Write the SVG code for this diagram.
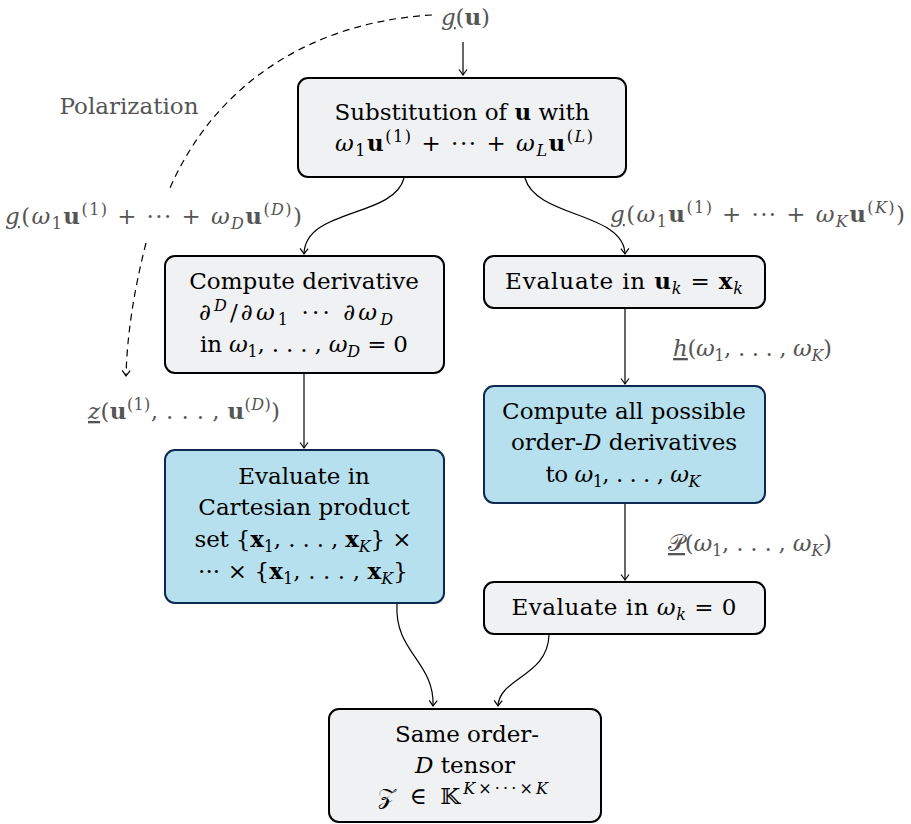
<svg xmlns="http://www.w3.org/2000/svg" width="911" height="824" viewBox="0 0 911 824">
<defs>
<style>
.t{font-family:"DejaVu Serif","Liberation Serif",serif;font-size:23px;fill:#000}
.g{font-family:"DejaVu Serif","Liberation Serif",serif;font-size:23px;fill:#555}
.i{font-style:italic}
.b{font-weight:bold}
.s{font-size:16px}
.u{text-decoration:underline}
.box{fill:#f0f1f3;stroke:#000;stroke-width:2}
.blue{fill:#b7e0ee;stroke:#0b2a52;stroke-width:2}
.c{fill:none;stroke:#000;stroke-width:1.2}
.d{fill:none;stroke:#000;stroke-width:1.2;stroke-dasharray:7 5}
</style>
<marker id="ah" viewBox="-7 -6 9 12" refX="0" refY="0" markerWidth="9" markerHeight="12" orient="auto" markerUnits="userSpaceOnUse">
<path d="M-5.5,-4 Q-1.5,-1 0,0 Q-1.5,1 -5.5,4" fill="none" stroke="#000" stroke-width="1.2"/>
</marker>
</defs>

<g id="connectors">
<path class="c" d="M463,42 L463,75" marker-end="url(#ah)"/>
<path class="d" d="M432,15 C310,22 215,85 170,188"/>
<path class="d" d="M146,243 C134,290 127,335 126,376" marker-end="url(#ah)"/>
<path class="c" d="M404,178 C394,218 305,208 304,254" marker-end="url(#ah)"/>
<path class="c" d="M525,178 C536,218 624,212 625,254" marker-end="url(#ah)"/>
<path class="c" d="M304,373 L304,448" marker-end="url(#ah)"/>
<path class="c" d="M625,308 L625,384" marker-end="url(#ah)"/>
<path class="c" d="M625,503 L625,580" marker-end="url(#ah)"/>
<path class="c" d="M397,604 C394,652 435,662 433,706" marker-end="url(#ah)"/>
<path class="c" d="M549,635 C548,676 499,678 498,706" marker-end="url(#ah)"/>
</g>

<g id="labels">
<text class="g" x="441" y="25" textLength="49"><tspan class="i u">g</tspan>(<tspan class="b">u</tspan>)</text>
<text class="g" x="129" y="114" text-anchor="middle">Polarization</text>
<text class="g" x="5" y="224" textLength="297"><tspan class="i u">g</tspan>(<tspan class="i">ω</tspan><tspan class="s" dy="5">1</tspan><tspan class="b" dy="-5">u</tspan><tspan class="s" dy="-9">(1)</tspan><tspan dy="9"> + ··· + </tspan><tspan class="i">ω</tspan><tspan class="s i" dy="5">D</tspan><tspan class="b" dy="-5">u</tspan><tspan class="s" dy="-9">(</tspan><tspan class="s i">D</tspan><tspan class="s">)</tspan><tspan dy="9">)</tspan></text>
<text class="g" x="88" y="419" textLength="192"><tspan class="i u">z</tspan>(<tspan class="b">u</tspan><tspan class="s" dy="-9">(1)</tspan><tspan dy="9">, . . . , </tspan><tspan class="b">u</tspan><tspan class="s" dy="-9">(</tspan><tspan class="s i">D</tspan><tspan class="s">)</tspan><tspan dy="9">)</tspan></text>
<text class="g" x="610" y="222" textLength="295"><tspan class="i u">g</tspan>(<tspan class="i">ω</tspan><tspan class="s" dy="5">1</tspan><tspan class="b" dy="-5">u</tspan><tspan class="s" dy="-9">(1)</tspan><tspan dy="9"> + ··· + </tspan><tspan class="i">ω</tspan><tspan class="s i" dy="5">K</tspan><tspan class="b" dy="-5">u</tspan><tspan class="s" dy="-9">(</tspan><tspan class="s i">K</tspan><tspan class="s">)</tspan><tspan dy="9">)</tspan></text>
<text class="g" x="673" y="356" textLength="159"><tspan class="i u">h</tspan>(<tspan class="i">ω</tspan><tspan class="s" dy="5">1</tspan><tspan dy="-5">, . . . , </tspan><tspan class="i">ω</tspan><tspan class="s i" dy="5">K</tspan><tspan dy="-5">)</tspan></text>
<text class="g" x="668" y="551" textLength="164"><tspan class="u">𝒫</tspan>(<tspan class="i">ω</tspan><tspan class="s" dy="5">1</tspan><tspan dy="-5">, . . . , </tspan><tspan class="i">ω</tspan><tspan class="s i" dy="5">K</tspan><tspan dy="-5">)</tspan></text>
</g>

<g id="n-subst">
<rect class="box" x="298" y="78" width="328" height="99" rx="10"/>
<text class="t" x="462" y="120" text-anchor="middle">Substitution of <tspan class="b">u</tspan> with</text>
<text class="t" x="464" y="151" text-anchor="middle" textLength="258"><tspan class="i">ω</tspan><tspan class="s" dy="5">1</tspan><tspan class="b" dy="-5">u</tspan><tspan class="s" dy="-9">(1)</tspan><tspan dy="9"> + ··· + </tspan><tspan class="i">ω</tspan><tspan class="s i" dy="5">L</tspan><tspan class="b" dy="-5">u</tspan><tspan class="s" dy="-9">(</tspan><tspan class="s i">L</tspan><tspan class="s">)</tspan></text>
</g>

<g id="n-deriv">
<rect class="box" x="165" y="256" width="279" height="117" rx="10"/>
<text class="t" x="304" y="289" text-anchor="middle">Compute derivative</text>
<text class="t" x="296" y="320" text-anchor="middle" textLength="194">∂<tspan class="s i" dy="-9">D</tspan><tspan dy="9">/∂</tspan><tspan class="i">ω</tspan><tspan class="s" dy="5">1</tspan><tspan dy="-5"> ··· ∂</tspan><tspan class="i">ω</tspan><tspan class="s i" dy="5">D</tspan></text>
<text class="t" x="304" y="352" text-anchor="middle" textLength="208">in <tspan class="i">ω</tspan><tspan class="s" dy="5">1</tspan><tspan dy="-5">, . . . , </tspan><tspan class="i">ω</tspan><tspan class="s i" dy="5">D</tspan><tspan dy="-5"> = 0</tspan></text>
</g>

<g id="n-evalu">
<rect class="box" x="484" y="256" width="281" height="52" rx="10"/>
<text class="t" x="624" y="289" text-anchor="middle" textLength="238">Evaluate in <tspan class="b">u</tspan><tspan class="s i" dy="5">k</tspan><tspan dy="-5"> = </tspan><tspan class="b">x</tspan><tspan class="s i" dy="5">k</tspan></text>
</g>

<g id="n-allderiv">
<rect class="blue" x="484" y="386" width="281" height="117" rx="10"/>
<text class="t" x="624" y="419" text-anchor="middle">Compute all possible</text>
<text class="t" x="624" y="450" text-anchor="middle">order-<tspan class="i">D</tspan> derivatives</text>
<text class="t" x="623" y="482" text-anchor="middle" textLength="155">to <tspan class="i">ω</tspan><tspan class="s" dy="5">1</tspan><tspan dy="-5">, . . . , </tspan><tspan class="i">ω</tspan><tspan class="s i" dy="5">K</tspan></text>
</g>

<g id="n-cart">
<rect class="blue" x="165" y="450" width="279" height="153" rx="10"/>
<text class="t" x="304" y="484" text-anchor="middle">Evaluate in</text>
<text class="t" x="304" y="515" text-anchor="middle">Cartesian product</text>
<text class="t" x="303" y="547" text-anchor="middle" textLength="217">set {<tspan class="b">x</tspan><tspan class="s" dy="5">1</tspan><tspan dy="-5">, . . . , </tspan><tspan class="b">x</tspan><tspan class="s i" dy="5">K</tspan><tspan dy="-5">} ×</tspan></text>
<text class="t" x="303" y="579" text-anchor="middle" textLength="210">··· × {<tspan class="b">x</tspan><tspan class="s" dy="5">1</tspan><tspan dy="-5">, . . . , </tspan><tspan class="b">x</tspan><tspan class="s i" dy="5">K</tspan><tspan dy="-5">}</tspan></text>
</g>

<g id="n-evalw">
<rect class="box" x="484" y="582" width="281" height="52" rx="10"/>
<text class="t" x="624" y="615" text-anchor="middle" textLength="225">Evaluate in <tspan class="i">ω</tspan><tspan class="s i" dy="5">k</tspan><tspan dy="-5"> = 0</tspan></text>
</g>

<g id="n-tensor">
<rect class="box" x="329" y="709" width="272" height="113" rx="10"/>
<text class="t" x="467" y="742" text-anchor="middle">Same order-</text>
<text class="t" x="465" y="773" text-anchor="middle"><tspan class="i">D</tspan> tensor</text>
<text class="t" x="463" y="804" text-anchor="middle" textLength="170">𝒵 ∈ 𝕂<tspan class="s i" dy="-10">K</tspan><tspan class="s">×···×</tspan><tspan class="s i">K</tspan></text>
</g>
</svg>
